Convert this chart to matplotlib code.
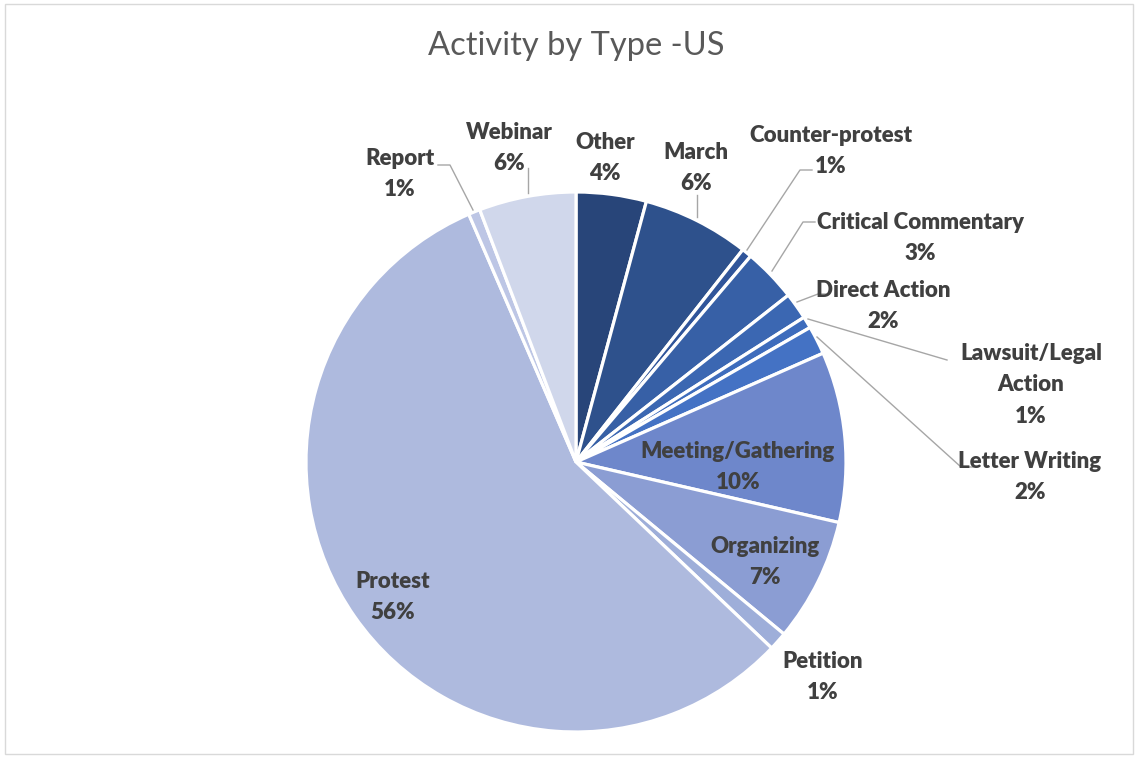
import matplotlib
matplotlib.use("Agg")
import matplotlib.pyplot as plt
from matplotlib.patches import Rectangle

# data (percent of activities, clockwise from 12 o'clock)
labels = ["Other", "March", "Counter-protest", "Critical Commentary", "Direct Action",
          "Lawsuit/Legal\nAction", "Letter Writing", "Meeting/Gathering", "Organizing",
          "Petition", "Protest", "Report", "Webinar"]
values = [4.2, 6.4, 0.6, 3.2, 1.6, 0.7, 1.7, 10.2, 7.4, 1.1, 56.4, 0.7, 5.8]
colors = ["#284579", "#2E518C", "#30559A", "#3760A6", "#3B67B2", "#3E6CBC", "#4472C4",
          "#6E87CB", "#8B9DD3", "#9EAED9", "#AEBADE", "#BDC6E5", "#D0D7EB"]

# label placement in pixels (center of text) and leader line points (pixels)
label_pos = [(605, 158), (696, 168), (831, 151), (920, 238), (883, 306),
             (1031, 385), (1030, 477), (738, 467), (765, 562),
             (823, 677), (393, 597), (400, 174), (509, 148)]
leaders = {
    "March": [(697, 195), (697, 217)],
    "Counter-protest": [(812, 170), (800, 170), (747, 250)],
    "Critical Commentary": [(815, 222), (803, 222), (772, 271)],
    "Direct Action": [(828, 294), (818, 294), (797, 302)],
    "Lawsuit/Legal\nAction": [(947, 360), (808, 319)],
    "Letter Writing": [(973, 467), (961, 467), (817, 337)],
    "Report": [(438, 165), (450, 165), (473, 210)],
    "Webinar": [(528, 168), (528, 193)],
}

W, H = 1138, 758
CX, CY, R = 576, 462, 270

plt.rcParams['font.family'] = ['Lato', 'DejaVu Sans']

fig = plt.figure(figsize=(W / 100, H / 100), dpi=100)
fig.patches.append(Rectangle((0.004, 0.005), 0.992, 0.99, transform=fig.transFigure,
                             fill=False, edgecolor="#D9D9D9", linewidth=1))

ax = fig.add_axes([(CX - R) / W, (H - CY - R) / H, 2 * R / W, 2 * R / H])
ax.pie(values, colors=colors, startangle=90, counterclock=False, radius=1,
       wedgeprops=dict(edgecolor="white", linewidth=2.3))
ax.set_xlim(-1, 1)
ax.set_ylim(-1, 1)
ax.set_aspect("equal")
ax.axis("off")


def to_data(px, py):
    return (px - CX) / R, (CY - py) / R


for lab, v, (px, py) in zip(labels, values, label_pos):
    x, y = to_data(px, py)
    ax.text(x, y, f"{lab}\n{v:.0f}%", ha="center", va="center", fontsize=16,
            fontweight="heavy", color="#404040", linespacing=1.6)
    if lab in leaders:
        pts = [to_data(*p) for p in leaders[lab]]
        ax.plot([p[0] for p in pts], [p[1] for p in pts], color="#A6A6A6",
                linewidth=1, clip_on=False)

fig.text(576 / W, 1 - 46 / H, "Activity by Type -US", ha="center", va="center",
         fontsize=23.5, color="#595959")

fig.savefig("out.png", dpi=100)
